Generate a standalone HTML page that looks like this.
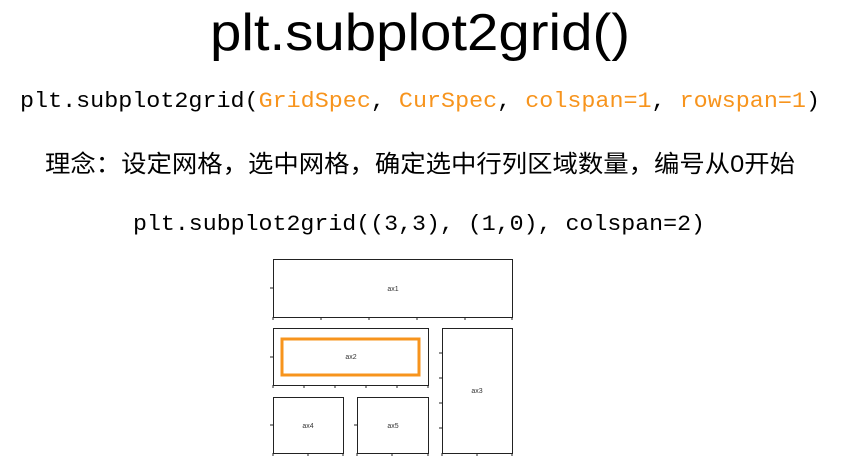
<!DOCTYPE html>
<html><head><meta charset="utf-8"><style>
html,body{margin:0;padding:0;background:#fff;width:846px;height:474px;overflow:hidden}
</style></head><body>
<svg width="846" height="474" viewBox="0 0 846 474" xmlns="http://www.w3.org/2000/svg">
<text x="210" y="50" font-family="Liberation Sans, sans-serif" font-size="52" fill="#000" textLength="420" lengthAdjust="spacingAndGlyphs">plt.subplot2grid()</text>
<text x="20" y="107" font-family="Liberation Mono, monospace" font-size="22" fill="#000" textLength="800" lengthAdjust="spacingAndGlyphs">plt.subplot2grid(<tspan fill="#f7941d">GridSpec</tspan>, <tspan fill="#f7941d">CurSpec</tspan>, <tspan fill="#f7941d">colspan=1</tspan>, <tspan fill="#f7941d">rowspan=1</tspan>)</text>
<text x="45" y="172" font-family="Liberation Sans, Noto Sans CJK SC, sans-serif" font-size="24" fill="#000" textLength="750" lengthAdjust="spacingAndGlyphs">理念：设定网格，选中网格，确定选中行列区域数量，编号从0开始</text>
<text x="133" y="230" font-family="Liberation Mono, monospace" font-size="22" fill="#000" textLength="572" lengthAdjust="spacingAndGlyphs">plt.subplot2grid((3,3), (1,0), colspan=2)</text>
<g fill="none" stroke="#222" stroke-width="1">
<rect x="273.5" y="259.5" width="239" height="58"/>
<rect x="273.5" y="328.5" width="155" height="57"/>
<rect x="442.5" y="328.5" width="70" height="125"/>
<rect x="273.5" y="397.5" width="70" height="56"/>
<rect x="357.5" y="397.5" width="71" height="56"/>
<path d="M270 288h3M273 317v3M321 317v3M369 317v3M417 317v3M465 317v3M512 317v3
M270 357h3M273 385v3M304 385v3M335 385v3M366 385v3M397 385v3M428 385v3
M439 353h3M439 378h3M439 403h3M439 428h3M442 453v3M477 453v3M512 453v3
M270 425h3M273 453v3M308 453v3M343 453v3
M354 425h3M357 453v3M392 453v3M428 453v3"/>
</g>
<rect x="282" y="339" width="137" height="36" fill="none" stroke="#f7941d" stroke-width="3"/>
<g font-family="Liberation Sans, sans-serif" font-size="7" fill="#333" text-anchor="middle">
<text x="393" y="291">ax1</text>
<text x="351" y="359">ax2</text>
<text x="477" y="393">ax3</text>
<text x="308" y="428">ax4</text>
<text x="393" y="428">ax5</text>
</g>
</svg>
</body></html>
